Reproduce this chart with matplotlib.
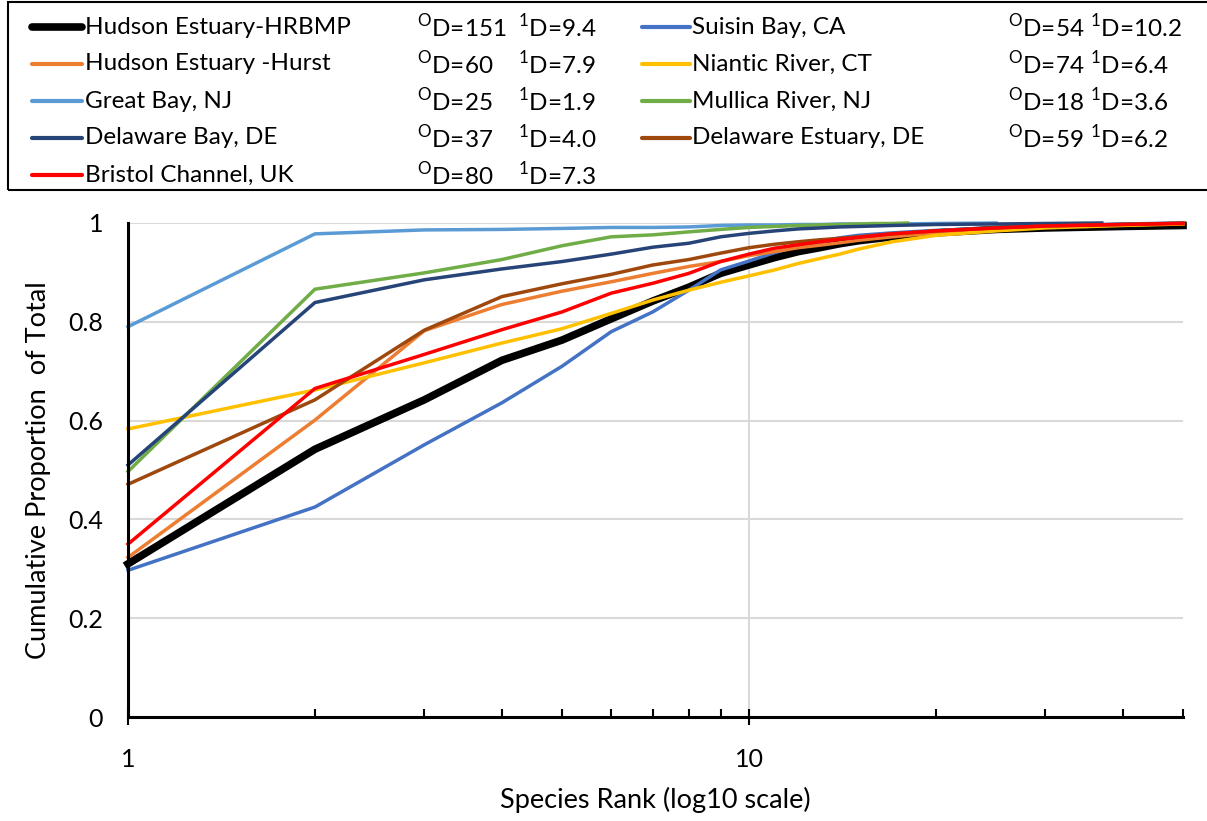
import matplotlib.pyplot as plt
from matplotlib.lines import Line2D
from matplotlib.patches import Rectangle
from matplotlib.ticker import LogLocator, NullFormatter, FixedLocator, FixedFormatter

plt.rcParams['font.family'] = ['Lato', 'DejaVu Sans']
plt.rcParams['mathtext.fontset'] = 'custom'
plt.rcParams['mathtext.rm'] = 'Lato'

# species ranks (x) and cumulative proportion of total (y)
ranks_long = [1, 2, 3, 4, 5, 6, 7, 8, 9, 10, 11, 12, 13, 14, 15, 17, 20, 25, 30, 40, 50]
ranks_great_bay = [1, 2, 3, 4, 5, 6, 7, 8, 9, 10, 11, 12, 13, 14, 15, 17, 20, 25]
ranks_del_bay = [1, 2, 3, 4, 5, 6, 7, 8, 9, 10, 11, 12, 13, 14, 15, 17, 20, 25, 30, 37]
ranks_mullica = list(range(1, 19))

hrbmp = [0.310, 0.542, 0.642, 0.722, 0.763, 0.806, 0.842, 0.870, 0.898, 0.915, 0.930,
         0.942, 0.950, 0.958, 0.964, 0.972, 0.980, 0.987, 0.990, 0.993, 0.995]
suisin = [0.297, 0.425, 0.551, 0.636, 0.710, 0.780, 0.820, 0.864, 0.905, 0.923, 0.940,
          0.953, 0.962, 0.970, 0.975, 0.980, 0.985, 0.990, 0.995, 0.998, 1.0]
hurst = [0.323, 0.601, 0.782, 0.835, 0.862, 0.881, 0.898, 0.912, 0.922, 0.934, 0.942,
         0.950, 0.955, 0.960, 0.965, 0.972, 0.980, 0.988, 0.992, 0.996, 0.999]
niantic = [0.583, 0.662, 0.717, 0.757, 0.786, 0.817, 0.844, 0.864, 0.880, 0.893, 0.905,
           0.918, 0.928, 0.937, 0.947, 0.962, 0.975, 0.984, 0.990, 0.995, 0.998]
great_bay = [0.790, 0.978, 0.986, 0.987, 0.989, 0.991, 0.991, 0.992, 0.995, 0.996, 0.996,
             0.997, 0.997, 0.998, 0.998, 0.998, 0.999, 1.0]
mullica = [0.497, 0.866, 0.899, 0.926, 0.954, 0.972, 0.976, 0.982, 0.987, 0.991, 0.993,
           0.995, 0.996, 0.997, 0.998, 0.999, 0.999, 1.0]
del_bay = [0.510, 0.839, 0.885, 0.907, 0.922, 0.937, 0.951, 0.959, 0.972, 0.979, 0.984,
           0.988, 0.990, 0.992, 0.993, 0.995, 0.997, 0.998, 0.999, 1.0]
del_estuary = [0.471, 0.642, 0.783, 0.851, 0.877, 0.896, 0.915, 0.926, 0.939, 0.950, 0.957,
               0.962, 0.966, 0.969, 0.972, 0.978, 0.984, 0.990, 0.994, 0.997, 1.0]
bristol = [0.350, 0.665, 0.734, 0.784, 0.820, 0.858, 0.878, 0.898, 0.922, 0.937, 0.949,
           0.956, 0.962, 0.967, 0.971, 0.978, 0.984, 0.990, 0.994, 0.997, 0.999]

# (name, ranks, values, colour, width, 0D, 1D, legend column, legend row)
series = [
    ("Hudson Estuary-HRBMP", ranks_long, hrbmp, "black", 5.5, "151", "9.4", 0, 0),
    ("Suisin Bay, CA", ranks_long, suisin, "#4472C4", 2.5, "54", "10.2", 1, 0),
    ("Hudson Estuary -Hurst", ranks_long, hurst, "#ED7D31", 2.5, "60", "7.9", 0, 1),
    ("Niantic River, CT", ranks_long, niantic, "#FFC000", 2.5, "74", "6.4", 1, 1),
    ("Great Bay, NJ", ranks_great_bay, great_bay, "#5B9BD5", 2.5, "25", "1.9", 0, 2),
    ("Mullica River, NJ", ranks_mullica, mullica, "#70AD47", 2.5, "18", "3.6", 1, 2),
    ("Delaware Bay, DE", ranks_del_bay, del_bay, "#264478", 2.5, "37", "4.0", 0, 3),
    ("Delaware Estuary, DE", ranks_long, del_estuary, "#9E480E", 2.5, "59", "6.2", 1, 3),
    ("Bristol Channel, UK", ranks_long, bristol, "#FF0000", 2.5, "80", "7.3", 0, 4),
]

W, H = 1207, 821
fig = plt.figure(figsize=(W / 100, H / 100), dpi=100)
ax = fig.add_axes([128 / W, 1 - 717 / H, (1183 - 128) / W, (717 - 223) / H])

for name, x, y, c, lw, d0, d1, col, row in series:
    ax.plot(x, y, color=c, lw=lw, solid_joinstyle='round', clip_on=False)

ax.set_xscale('log')
ax.set_xlim(1, 50)
ax.set_ylim(0, 1)
ax.xaxis.set_major_locator(FixedLocator([1, 10]))
ax.xaxis.set_major_formatter(FixedFormatter(['1', '10']))
ax.xaxis.set_minor_locator(LogLocator(base=10, subs=range(2, 10)))
ax.xaxis.set_minor_formatter(NullFormatter())
ax.set_yticks([0, 0.2, 0.4, 0.6, 0.8, 1])
ax.set_yticklabels(['0', '0.2', '0.4', '0.6', '0.8', '1'])

ax.grid(True, which='major', color='#d9d9d9', lw=1.5)
ax.set_axisbelow(True)
for s in ['top', 'right']:
    ax.spines[s].set_visible(False)
for s in ['left', 'bottom']:
    ax.spines[s].set_linewidth(2.2)
    ax.spines[s].set_color('black')

ax.tick_params(axis='x', which='major', direction='inout', length=12, width=1.5,
               labelsize=18, pad=16)
ax.tick_params(axis='x', which='minor', direction='in', length=6, width=1.5)
ax.tick_params(axis='y', length=0, labelsize=18, pad=18)

ax.set_xlabel('Species Rank (log10 scale)', fontsize=19.5, labelpad=12)
ax.set_ylabel('Cumulative Proportion  of Total', fontsize=19.5, labelpad=12)

# legend box drawn by hand so the D values can sit in their own columns
fig.patches.append(Rectangle((8 / W, 1 - 190 / H), 1.0, 188 / H, transform=fig.transFigure,
                             fill=False, edgecolor='black', lw=1.5))
row_y = [27, 64, 101, 138, 175]
line_x = [(32, 82), (642, 690)]
name_x = [85, 692]
d0_x = [417, 1008]
d1_x = [518, 1090]
for name, x, y, c, lw, d0, d1, col, row in series:
    fy = 1 - row_y[row] / H
    fig.lines.append(Line2D([line_x[col][0] / W, line_x[col][1] / W], [fy, fy],
                            transform=fig.transFigure, color=c, lw=lw if lw > 3 else 3,
                            solid_capstyle='round'))
    fig.text(name_x[col] / W, fy, name, fontsize=17.5, va='center', ha='left')
    fig.text(d0_x[col] / W, fy, r'$^{\mathrm{O}}$D=' + d0, fontsize=17.5, va='center', ha='left')
    fig.text(d1_x[col] / W, fy, r'$^{\mathrm{1}}$D=' + d1, fontsize=17.5, va='center', ha='left')

fig.savefig('out.png', dpi=100)
